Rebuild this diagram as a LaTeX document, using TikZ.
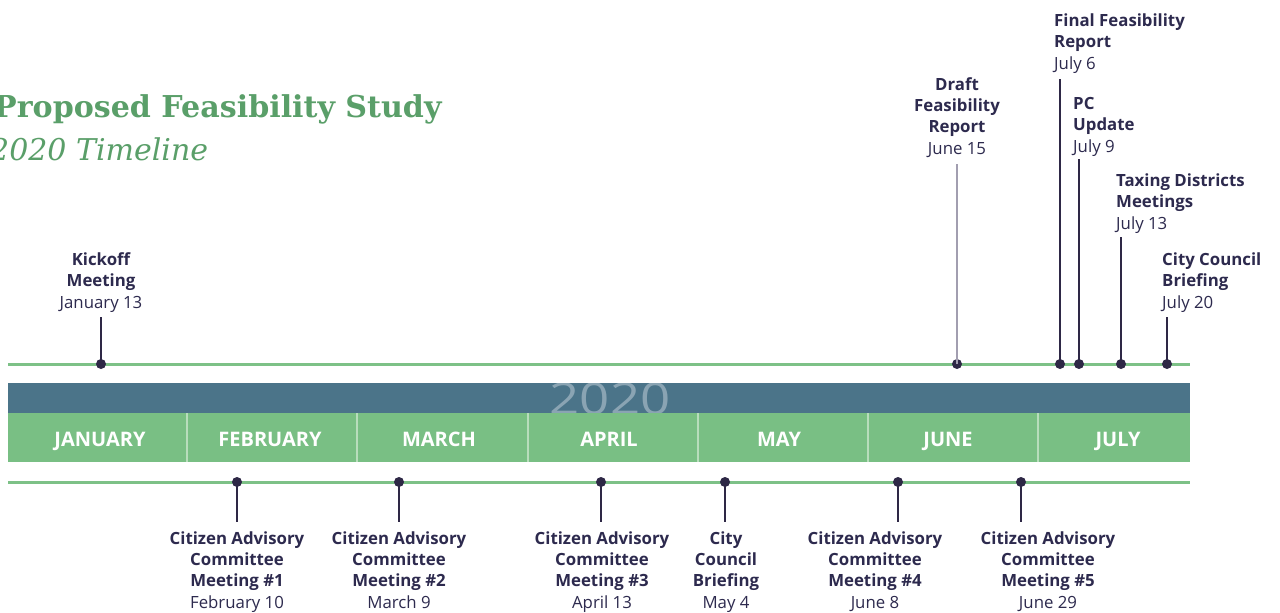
\documentclass[tikz,border=0pt]{standalone}
\usepackage{fontspec}
\setmainfont{Open Sans}
\newfontfamily\titlefont{DejaVu Serif}
\definecolor{gline}{HTML}{7DC187}
\definecolor{bandgreen}{HTML}{79BF84}
\definecolor{bandblue}{HTML}{4B7489}
\definecolor{yearcol}{HTML}{8AA4B3}
\definecolor{sepcol}{HTML}{B8DDBC}
\definecolor{stemcol}{HTML}{2E2846}
\definecolor{draftcol}{HTML}{A29EB0}
\definecolor{txt}{HTML}{2D2A4E}
\definecolor{titlegreen}{HTML}{5A9F69}
\tikzset{
  lbl/.style={align=center, inner sep=0pt, text=txt, font=\fontsize{16.8}{21.3}\selectfont\bfseries},
  lbll/.style={lbl, align=left},
  dot/.style={circle, fill=stemcol, inner sep=0pt, minimum size=10pt},
  stem/.style={draw=stemcol, line width=2pt},
  month/.style={text=white, inner sep=0pt, anchor=base, font=\fontsize{20}{22}\selectfont\bfseries},
  sep/.style={draw=sepcol, line width=2.5pt},
  tl/.style={draw=gline, line width=3pt}
}
\begin{document}
\begin{tikzpicture}[x=1pt,y=-1pt]
\useasboundingbox (0,0) rectangle (1280,613);
\fill[white] (0,0) rectangle (1280,613);

% title
\node[anchor=base west, inner sep=0pt, text=titlegreen, font=\titlefont\fontsize{30.1}{30}\selectfont\bfseries] (title) at (-6,117) {Proposed Feasibility Study};
\node[anchor=base west, inner sep=0pt, text=titlegreen, font=\titlefont\fontsize{30}{30}\selectfont\itshape] (subtitle) at (-10,160) {2020 Timeline};

% bands
\fill[bandblue] (8,383) rectangle (1190,413);
\begin{scope}
  \clip (8,383) rectangle (1190,413);
  \node[anchor=base, inner sep=0pt, text=yearcol, xscale=1.2, font=\fontsize{44}{44}\selectfont] (year) at (610,414) {2020};
\end{scope}
\fill[bandgreen] (8,413) rectangle (1190,462);
\foreach \x in {187,357,528,698,868,1038} \draw[sep] (\x,413) -- (\x,462);
\node[month] (jan) at (100,446) {JANUARY};
\node[month] (feb) at (270,446) {FEBRUARY};
\node[month] (mar) at (439,446) {MARCH};
\node[month] (apr) at (609,446) {APRIL};
\node[month] (may) at (779,446) {MAY};
\node[month] (jun) at (948,446) {JUNE};
\node[month] (jul) at (1118,446) {JULY};

% timeline lines
\coordinate (tlA) at (8,364); \coordinate (tlB) at (1190,364);
\coordinate (blA) at (8,482); \coordinate (blB) at (1190,482);
\draw[tl] (tlA) -- (tlB);
\draw[tl] (blA) -- (blB);

% top events
\node[lbl, anchor=base] (kick) at (101,308) {Kickoff\\Meeting\\{\mdseries January 13}};
\coordinate (kickt) at (101,317);
\node[dot] (kickd) at (101,364) {};
\draw[stem] (kickt) -- (kickd.center);

\node[lbl, anchor=base] (draft) at (957,154) {Draft\\Feasibility\\Report\\{\mdseries June 15}};
\coordinate (draftt) at (957,164);
\node[dot] (draftd) at (957,364) {};
\draw[draw=draftcol, line width=2pt] (draftt) -- (draftd.center);

\node[lbll, anchor=base west] (final) at (1054,69) {Final Feasibility\\Report\\{\mdseries July 6}};
\coordinate (finalt) at (1060,79);
\node[dot] (finald) at (1060,364) {};
\draw[stem] (finalt) -- (finald.center);

\node[lbll, anchor=base west] (pc) at (1073,152) {PC\\Update\\{\mdseries July 9}};
\coordinate (pct) at (1079,159);
\node[dot] (pcd) at (1079,364) {};
\draw[stem] (pct) -- (pcd.center);

\node[lbll, anchor=base west] (tax) at (1116,229) {Taxing Districts\\Meetings\\{\mdseries July 13}};
\coordinate (taxt) at (1121,237);
\node[dot] (taxd) at (1121,364) {};
\draw[stem] (taxt) -- (taxd.center);

\node[lbll, anchor=base west] (ccb) at (1162,308) {City Council\\Briefing\\{\mdseries July 20}};
\coordinate (ccbt) at (1167,317);
\node[dot] (ccbd) at (1167,364) {};
\draw[stem] (ccbt) -- (ccbd.center);

% bottom events
\foreach \n/\x/\lx/\t in {
  c1/237/237/{Citizen Advisory\\Committee\\Meeting \#1\\{\mdseries February 10}},
  c2/399/399/{Citizen Advisory\\Committee\\Meeting \#2\\{\mdseries March 9}},
  c3/601/602/{Citizen Advisory\\Committee\\Meeting \#3\\{\mdseries April 13}},
  cc/725/726/{City\\Council\\Briefing\\{\mdseries May 4}},
  c4/898/875/{Citizen Advisory\\Committee\\Meeting \#4\\{\mdseries June 8}},
  c5/1021/1048/{Citizen Advisory\\Committee\\Meeting \#5\\{\mdseries June 29}}}{
  \node[dot] (\n d) at (\x,482) {};
  \coordinate (\n b) at (\x,522);
  \draw[stem] (\n d.center) -- (\n b);
  \node[lbl, anchor=base] (\n) at (\lx,608) {\t};
}
\end{tikzpicture}
\end{document}
